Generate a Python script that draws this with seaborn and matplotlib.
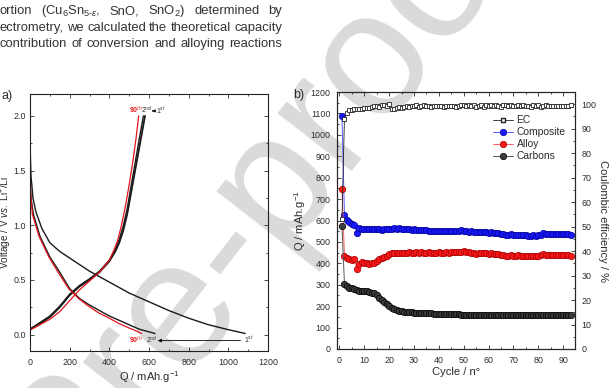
import matplotlib
matplotlib.use('Agg')
import matplotlib.pyplot as plt
from matplotlib.lines import Line2D
from matplotlib.ticker import MultipleLocator
import pandas as pd
import seaborn as sns

# ---- panel a : galvanostatic profiles (Q in mAh/g, V vs Li+/Li) ----
q_dis_1 = [0, 5, 15, 30, 60, 100, 150, 200, 300, 400, 500, 600, 700, 800, 900, 1000, 1085]
v_dis_1 = [1.75, 1.45, 1.25, 1.12, 0.97, 0.84, 0.76, 0.70, 0.58, 0.48, 0.38, 0.30, 0.22, 0.15, 0.09, 0.045, 0.01]
q_dis_2 = [0, 5, 17, 50, 100, 150, 200, 250, 300, 350, 400, 450, 500, 550, 600, 630]
v_dis_2 = [1.42, 1.25, 1.10, 0.90, 0.71, 0.57, 0.42, 0.33, 0.27, 0.22, 0.17, 0.13, 0.09, 0.05, 0.025, 0.01]
q_dis_90 = [0, 3, 12, 45, 95, 145, 195, 245, 295, 345, 400, 450, 500, 540, 563]
v_dis_90 = [1.55, 1.30, 1.10, 0.90, 0.71, 0.56, 0.42, 0.33, 0.26, 0.20, 0.15, 0.10, 0.06, 0.03, 0.01]
q_ch_1 = [0, 50, 100, 150, 200, 250, 300, 350, 400, 430, 450, 470, 490, 510, 530, 550, 565, 580]
v_ch_1 = [0.05, 0.10, 0.16, 0.25, 0.36, 0.44, 0.50, 0.57, 0.67, 0.76, 0.84, 0.95, 1.10, 1.30, 1.50, 1.70, 1.85, 2.0]
q_ch_2 = [0, 50, 100, 150, 200, 250, 300, 350, 400, 430, 450, 470, 490, 510, 530, 550, 572]
v_ch_2 = [0.05, 0.11, 0.17, 0.26, 0.37, 0.45, 0.51, 0.58, 0.68, 0.78, 0.87, 0.99, 1.15, 1.36, 1.57, 1.78, 2.0]
q_ch_90 = [0, 50, 100, 150, 200, 250, 300, 350, 400, 425, 440, 460, 480, 500, 520, 535, 548]
v_ch_90 = [0.04, 0.09, 0.14, 0.21, 0.31, 0.41, 0.49, 0.57, 0.68, 0.78, 0.85, 0.99, 1.16, 1.37, 1.60, 1.80, 2.0]

# ---- panel b : cycling ----
cycles = list(range(1, 94))
composite = [1088, 625, 602, 592, 584, 579, 540, 566, 562, 560,
             561, 559, 560, 558, 560, 559, 557, 560, 558, 561,
             562, 566, 562, 563, 560, 561, 558, 559, 557, 558,
             556, 557, 555, 554, 555, 553, 552, 553, 551, 552,
             551, 552, 550, 551, 552, 550, 551, 553, 554, 552,
             550, 548, 549, 546, 544, 547, 545, 546, 544, 543,
             544, 541, 540, 541, 538, 536, 533, 534, 535, 533,
             534, 532, 533, 531, 530, 528, 527, 530, 529, 531,
             534, 540, 537, 538, 536, 537, 538, 536, 537, 538,
             536, 535, 530]
alloy = [745, 436, 424, 420, 417, 418, 373, 398, 408, 403,
         400, 397, 402, 400, 410, 418, 424, 430, 436, 442,
         447, 450, 447, 449, 448, 450, 449, 451, 448, 450,
         452, 449, 451, 450, 449, 451, 450, 449, 450, 451,
         449, 450, 451, 450, 452, 451, 453, 454, 455, 456,
         453, 451, 449, 446, 444, 447, 448, 446, 447, 445,
         446, 444, 443, 444, 441, 438, 435, 436, 437, 436,
         435, 437, 435, 436, 434, 433, 432, 435, 434, 433,
         437, 442, 440, 439, 440, 438, 439, 440, 438, 439,
         440, 438, 434]
carbons = [575, 305, 293, 287, 283, 278, 274, 272, 271, 271,
           269, 266, 262, 260, 250, 240, 230, 220, 210, 200,
           192, 186, 182, 179, 177, 175, 173, 172, 171, 170,
           169, 168, 168, 167, 167, 166, 166, 165, 165, 165,
           164, 164, 163, 163, 163, 162, 162, 162, 161, 161,
           161, 161, 161, 161, 161, 161, 160, 160, 160, 160,
           160, 160, 160, 160, 160, 160, 160, 160, 160, 160,
           160, 160, 160, 160, 160, 160, 160, 160, 160, 160,
           160, 160, 160, 160, 160, 160, 160, 160, 160, 160,
           160, 160, 160]
ec = [53, 94, 96.5, 97.5, 97.8, 98, 98, 98.2, 98, 98.3,
      98.5, 98.4, 98.7, 99.2, 99.4, 98.8, 99.5, 99.8, 99.3, 100.3,
      98.2, 98.0, 98.6, 98.9, 98.5, 99.0, 99.2, 98.7, 99.1, 99.3,
      99.6, 99.0, 99.2, 99.5, 99.1, 99.3, 99.0, 99.4, 99.2, 99.1,
      99.3, 99.0, 99.2, 99.4, 99.1, 99.3, 98.9, 99.2, 99.6, 99.5,
      99.3, 99.7, 99.2, 99.6, 98.8, 99.3, 99.5, 99.0, 99.6, 99.2,
      99.7, 99.1, 99.8, 99.4, 99.0, 99.6, 99.8, 99.2, 99.5, 99.4,
      99.1, 99.6, 99.3, 99.5, 99.2, 99.4, 98.9, 99.6, 99.3, 99.5,
      98.7, 99.4, 99.6, 99.2, 99.4, 99.3, 99.2, 99.4, 99.3, 99.2,
      99.4, 99.3, 99.6]

para_lines = [
    ["ortion", "(Cu$_6$Sn$_{5\u2010\u03b5}$,", "SnO,", "SnO$_2$)", "determined", "by"],
    ["ectrometry,", "we", "calculated", "the", "theoretical", "capacity"],
    ["contribution", "of", "conversion", "and", "alloying", "reactions"],
]

sns.set_style("ticks")
plt.rcParams["font.family"] = ["Liberation Sans", "DejaVu Sans"]
plt.rcParams["mathtext.fontset"] = "custom"
plt.rcParams["mathtext.rm"] = "Liberation Sans"
plt.rcParams["mathtext.it"] = "Liberation Sans:italic"
plt.rcParams["mathtext.bf"] = "Liberation Sans:bold"
plt.rcParams["axes.linewidth"] = 0.8

W, H = 613, 388
fig = plt.figure(figsize=(W / 100, H / 100), dpi=100)
txt = "#2b2b2b"
lab_fs = 8.0
tick_fs = 6.4
tpad = 4.8

# watermark behind the axes
fig.text(74 / W, 1 - 452 / H, "Journal Pre-proof", fontsize=128, color="#dadada",
         rotation=52, rotation_mode="anchor", ha="center", va="center", zorder=-5)

# justified paragraph fragment
rend = fig.canvas.get_renderer()
for i, words in enumerate(para_lines):
    y = [11, 28, 44][i]
    objs = [fig.text(0, 1 - y / H, w, fontsize=9.4, va="center", color="#333333") for w in words]
    widths = [t.get_window_extent(rend).width for t in objs]
    gap = (282 - sum(widths)) / (len(words) - 1)
    x = 0
    for t, w in zip(objs, widths):
        t.set_x(x / W)
        x += w + gap


def style_axis(ax):
    ax.set_facecolor("none")
    ax.tick_params(which="both", direction="in", top=True, right=True, width=0.6,
                   labelsize=tick_fs, colors=txt, pad=tpad)
    ax.tick_params(which="major", length=3)
    ax.tick_params(which="minor", length=1.6)
    for s in ax.spines.values():
        s.set_visible(True)
        s.set_color("#222222")


# ---------------- panel a ----------------
ax_a = fig.add_axes([30 / W, 1 - 351 / H, 238 / W, 257 / H])
curves = [(q_dis_1, v_dis_1, "#1a1a1a", 1.0), (q_ch_1, v_ch_1, "#1a1a1a", 1.3),
          (q_dis_2, v_dis_2, "#1a1a1a", 1.0), (q_ch_2, v_ch_2, "#1a1a1a", 1.0),
          (q_dis_90, v_dis_90, "#e8141c", 0.9), (q_ch_90, v_ch_90, "#e8141c", 0.9)]
for q, v, c, lw in curves:
    sns.lineplot(x=q, y=v, sort=False, estimator=None, color=c, lw=lw, ax=ax_a)
ax_a.set_xlim(0, 1200)
ax_a.set_ylim(-0.15, 2.2)
ax_a.xaxis.set_major_locator(MultipleLocator(200))
ax_a.xaxis.set_minor_locator(MultipleLocator(100))
ax_a.yaxis.set_major_locator(MultipleLocator(0.5))
ax_a.yaxis.set_minor_locator(MultipleLocator(0.25))
ax_a.yaxis.set_major_formatter(matplotlib.ticker.FormatStrFormatter("%.1f"))
style_axis(ax_a)
ax_a.tick_params(axis="y", pad=3.0)
ax_a.set_xlabel("Q / mAh.g$^{-1}$", fontsize=lab_fs, color=txt, labelpad=2)
ax_a.set_ylabel("Voltage / V $\\mathit{vs.}$ Li$^{+}$/Li", fontsize=7.2, color=txt)
ax_a.yaxis.set_label_coords(-0.068, 0.5)

ann = dict(fontsize=5.0, va="center", ha="left")
ax_a.text(498, 2.05, "90$^{th}$", color="#e8141c", fontweight="bold", **ann)
ax_a.text(562, 2.05, "2$^{nd}$", color=txt, **ann)
ax_a.text(634, 2.05, "1$^{st}$", color=txt, **ann)
ax_a.annotate("", xy=(602, 2.045), xytext=(632, 2.045),
              arrowprops=dict(arrowstyle="-|>", color="k", lw=0.6, mutation_scale=4))
ax_a.text(500, -0.05, "90$^{th}$", color="#e8141c", fontweight="bold", **ann)
ax_a.text(583, -0.05, "2$^{nd}$", color=txt, **ann)
ax_a.text(1080, -0.045, "1$^{st}$", color=txt, **ann)
ax_a.annotate("", xy=(630, -0.055), xytext=(1075, -0.055),
              arrowprops=dict(arrowstyle="-|>", color="k", lw=0.6, mutation_scale=5))
fig.text(2 / W, 1 - 96 / H, "a)", fontsize=9, color=txt, va="center")

# ---------------- panel b ----------------
ax_b = fig.add_axes([337 / W, 1 - 349 / H, 238 / W, 257 / H])
df = pd.DataFrame({"cycle": cycles, "Composite": composite, "Alloy": alloy, "Carbons": carbons})
series = [("Composite", "#1a1aff", "#000090", "#5555ff"),
          ("Alloy", "#ff1a1a", "#a00000", "#ff6060"),
          ("Carbons", "#3c3c3c", "#000000", "#555555")]
for name, fc, ec_col, lc in series:
    sns.lineplot(data=df, x="cycle", y=name, ax=ax_b, color=lc, lw=0.7, marker="o",
                 markersize=4.6, markerfacecolor=fc, markeredgecolor=ec_col,
                 markeredgewidth=0.5, estimator=None)
ax_b.set_xlim(-1, 94.8)
ax_b.set_ylim(0, 1200)
ax_b.xaxis.set_major_locator(MultipleLocator(10))
ax_b.xaxis.set_minor_locator(MultipleLocator(5))
ax_b.yaxis.set_major_locator(MultipleLocator(100))
ax_b.yaxis.set_minor_locator(MultipleLocator(50))
style_axis(ax_b)
ax_b.tick_params(right=False, which="both")
ax_b.set_xlabel("Cycle / n\u00b0", fontsize=lab_fs, color=txt, labelpad=2)
ax_b.set_ylabel("Q / mAh.g$^{-1}$", fontsize=lab_fs, color=txt, labelpad=2)

ax_c = ax_b.twinx()
sns.lineplot(x=cycles, y=ec, ax=ax_c, color="#222222", lw=0.6, marker="s", markersize=3,
             markerfacecolor="white", markeredgecolor="#222222", markeredgewidth=0.6,
             estimator=None)
ax_c.set_ylim(0, 105)
ax_c.yaxis.set_major_locator(MultipleLocator(10))
ax_c.yaxis.set_minor_locator(MultipleLocator(5))
ax_c.tick_params(which="both", direction="in", width=0.6, labelsize=tick_fs, colors=txt, pad=tpad)
ax_c.tick_params(which="major", length=3)
ax_c.tick_params(which="minor", length=1.6)
ax_c.set_facecolor("none")
ax_c.set_ylabel("Coulombic efficiency / %", fontsize=lab_fs, color=txt, rotation=-90, labelpad=8)

handles = [Line2D([], [], color="#222222", lw=0.6, marker="s", markersize=3,
                  markerfacecolor="white", markeredgecolor="#222222")]
for name, fc, ec_col, lc in series:
    handles.append(Line2D([], [], color=lc, lw=0.7, marker="o", markersize=4.6,
                          markerfacecolor=fc, markeredgecolor=ec_col, markeredgewidth=0.5))
ax_b.legend(handles, ["EC", "Composite", "Alloy", "Carbons"], loc="upper left",
            bbox_to_anchor=(0.655, 0.91), frameon=False, fontsize=7.4, handlelength=2.0,
            handletextpad=0.3, labelspacing=0.2, borderpad=0, borderaxespad=0,
            labelcolor=txt)
fig.text(293 / W, 1 - 95 / H, "b)", fontsize=9, color=txt, va="center")

fig.savefig("out.png", dpi=100)
